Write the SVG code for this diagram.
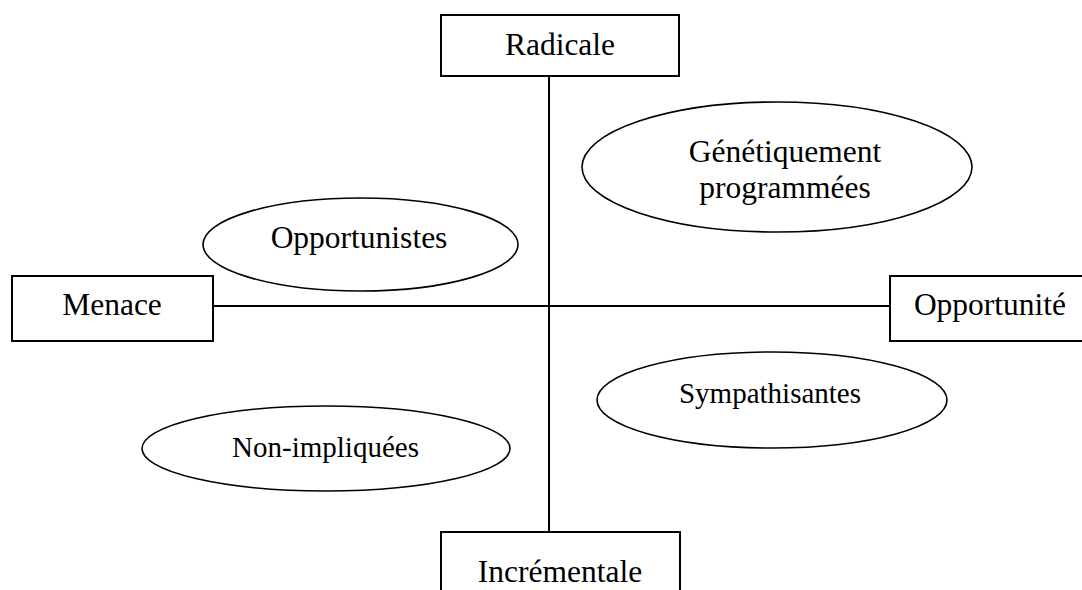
<svg xmlns="http://www.w3.org/2000/svg" width="1082" height="590" viewBox="0 0 1082 590">
<style>
.box{fill:#fff;stroke:#000;stroke-width:2}
.ell{fill:#fff;stroke:#000;stroke-width:1.6}
.ln{stroke:#000;stroke-width:2;fill:none}
text{font-family:"Liberation Serif","Times New Roman",serif;font-size:31.5px;fill:#000;text-anchor:middle}
.sm{font-size:29px}
</style>
<rect width="1082" height="590" fill="#fff"/>
<g id="connectors">
<line class="ln" x1="549" y1="76" x2="549" y2="532"/>
<line class="ln" x1="213" y1="306" x2="890" y2="306"/>
</g>
<g id="radicale"><rect class="box" x="441" y="15" width="238" height="61"/><text x="560" y="55">Radicale</text></g>
<g id="menace"><rect class="box" x="12" y="276" width="201" height="65"/><text x="112" y="315">Menace</text></g>
<g id="opportunite"><rect class="box" x="890" y="276" width="200" height="65"/><text x="990" y="315">Opportunité</text></g>
<g id="incrementale"><rect class="box" x="441" y="532" width="239" height="70"/><text x="560" y="582">Incrémentale</text></g>
<g id="genetiquement"><ellipse class="ell" cx="777" cy="167" rx="195" ry="65"/><text x="785" y="162">Génétiquement</text><text x="785" y="198">programmées</text></g>
<g id="opportunistes"><ellipse class="ell" cx="360.5" cy="244.5" rx="157.5" ry="46.5"/><text x="359" y="248">Opportunistes</text></g>
<g id="sympathisantes"><ellipse class="ell" cx="772" cy="400" rx="175" ry="48"/><text class="sm" x="770" y="403">Sympathisantes</text></g>
<g id="nonimpliquees"><ellipse class="ell" cx="326" cy="448.5" rx="184" ry="42.5"/><text class="sm" x="325.5" y="457">Non-impliquées</text></g>
</svg>
